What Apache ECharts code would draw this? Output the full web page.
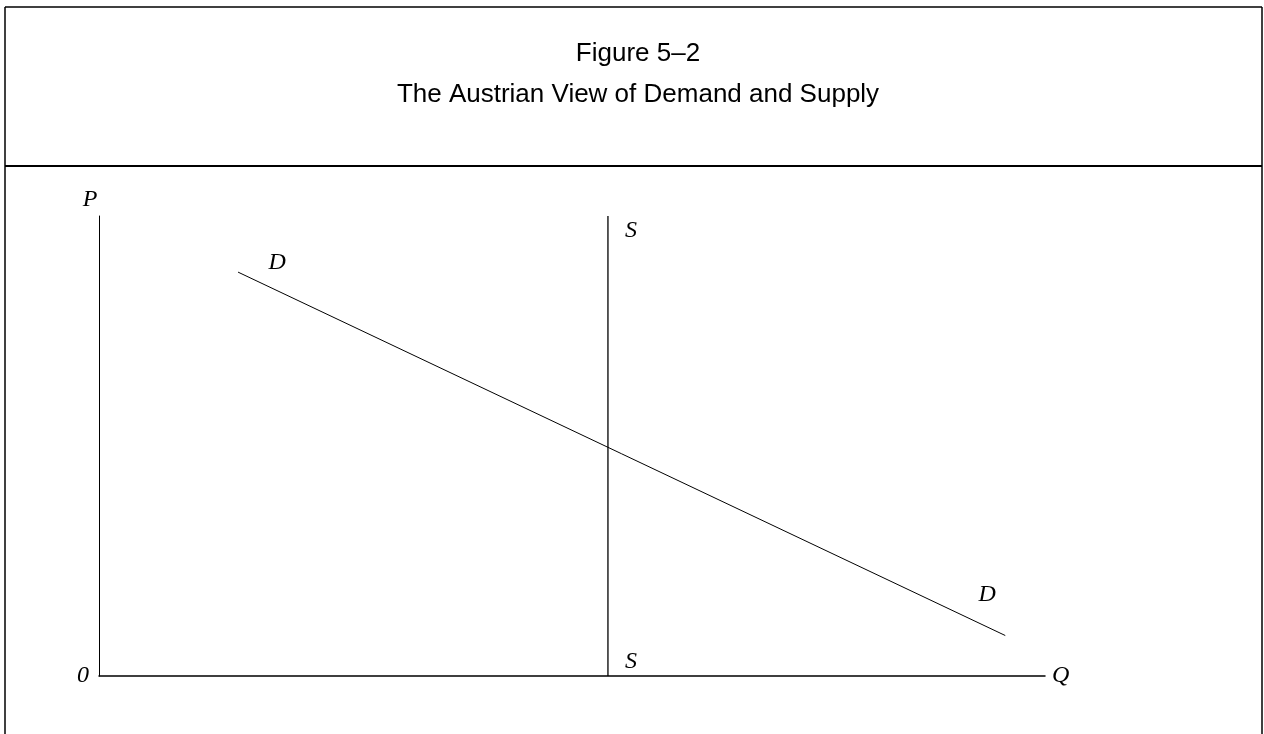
<!DOCTYPE html>
<html>
  <head>
    <meta charset="utf-8" />
    <script src="https://cdn.jsdelivr.net/npm/echarts@6/dist/echarts.min.js"></script>
  </head>
  <body>
    <style>
      #main,
      html,
      body {
        margin: 0;
        width: 100%;
        height: 100%;
        overflow: hidden;
        background: #fff;
      }
    </style>
    <div id="main"></div>
    <script type="text/javascript">
      // chart data (axis units 0..100)
      var titleLines = ['Figure 5–2', 'The Austrian View of Demand and Supply'];
      var demandX = [14.7, 95.8];
      var demandY = [87.8, 8.8];
      var supplyX = [53.8, 53.8];
      var supplyY = [100, 0];
      var curveNames = ['D', 'S'];
      var axisNames = ['Q', 'P'];
      var originLabel = '0';

      var serif = {
        fontFamily: 'Liberation Serif',
        fontStyle: 'italic',
        fontSize: 24,
        color: '#000'
      };

      function pairs(xs, ys) {
        return xs.map(function (x, i) { return [x, ys[i]]; });
      }

      // label offsets for each end of a curve
      function withLabels(points, name, offsets) {
        return points.map(function (p, i) {
          return {
            value: p,
            label: Object.assign({
              show: true,
              position: 'inside',
              formatter: name,
              offset: offsets[i]
            }, serif)
          };
        });
      }

      var myChart = echarts.init(document.getElementById('main'));

      var option = {
        animation: false,
        title: [
          {
            text: titleLines[0],
            left: 633,
            top: 36,
            textAlign: 'center',
            textStyle: { fontFamily: 'Liberation Sans', fontWeight: 'normal', fontSize: 26, color: '#000' }
          },
          {
            text: titleLines[1],
            left: 633,
            top: 77,
            textAlign: 'center',
            textStyle: { fontFamily: 'Liberation Sans', fontWeight: 'normal', fontSize: 26, color: '#000' }
          }
        ],
        graphic: [
          { type: 'line', shape: { x1: 5, y1: 7, x2: 1262, y2: 7 }, style: { stroke: '#000', lineWidth: 1.5 } },
          { type: 'line', shape: { x1: 5, y1: 7, x2: 5, y2: 734 }, style: { stroke: '#000', lineWidth: 1.5 } },
          { type: 'line', shape: { x1: 1262, y1: 7, x2: 1262, y2: 734 }, style: { stroke: '#000', lineWidth: 1.5 } },
          { type: 'line', shape: { x1: 5, y1: 166, x2: 1262, y2: 166 }, style: { stroke: '#000', lineWidth: 2 } }
        ],
        grid: { left: 99, right: 219, top: 216, bottom: 58 },
        xAxis: {
          type: 'value',
          min: 0,
          max: 100,
          name: axisNames[0],
          nameLocation: 'end',
          nameGap: 7,
          nameTextStyle: serif,
          axisLine: { lineStyle: { color: '#000', width: 1.5 } },
          axisTick: { show: false },
          axisLabel: { show: false },
          splitLine: { show: false }
        },
        yAxis: {
          type: 'value',
          min: 0,
          max: 100,
          interval: 100,
          name: axisNames[1],
          nameLocation: 'end',
          nameGap: 4,
          nameTextStyle: Object.assign({ padding: [0, 18, 0, 0] }, serif),
          axisLine: { show: true, lineStyle: { color: '#000', width: 1 } },
          axisTick: { show: false },
          axisLabel: Object.assign({
            margin: 10,
            formatter: function (v) { return v === 0 ? originLabel : ''; }
          }, serif),
          splitLine: { show: false }
        },
        series: [
          {
            name: curveNames[0],
            type: 'line',
            symbol: 'circle',
            symbolSize: 1,
            itemStyle: { color: 'rgba(0,0,0,0)' },
            lineStyle: { color: '#000', width: 1 },
            data: withLabels(pairs(demandX, demandY), curveNames[0], [[39, -9], [-18, -41]])
          },
          {
            name: curveNames[1],
            type: 'line',
            symbol: 'circle',
            symbolSize: 1,
            itemStyle: { color: 'rgba(0,0,0,0)' },
            lineStyle: { color: '#000', width: 1.3 },
            data: withLabels(pairs(supplyX, supplyY), curveNames[1], [[23, 15], [23, -14]])
          }
        ]
      };

      myChart.setOption(option);
    </script>
  </body>
</html>
